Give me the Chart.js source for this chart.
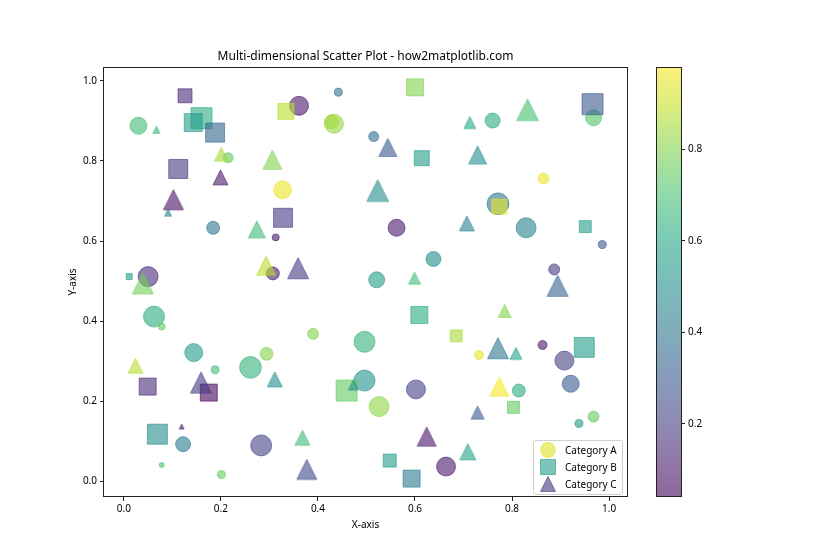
<!DOCTYPE html>
<html>
<head>
<meta charset="utf-8">
<script src="https://cdn.jsdelivr.net/npm/chart.js@4.4.1/dist/chart.umd.min.js"></script>
<style>
  body { margin: 0; background: #fff; }
  #wrap { position: relative; width: 840px; height: 560px; font-family: 'Noto Sans', sans-serif; }
  #main { position: absolute; left: 0; top: 0; }
  #cbar { position: absolute; left: 640px; top: 0; }
  #legend { position: absolute; left: 533px; top: 440px; width: 88px; height: 53px;
            border: 1px solid #d0d0d0; border-radius: 3px; background: rgba(255,255,255,0.8);
            font-size: 10px; color: #000; }
  #legend .mk { position: absolute; left: 5px; }
  #legend .tx { position: absolute; left: 31px; line-height: 17px; white-space: nowrap; }
</style>
</head>
<body>
<div id="wrap">
  <canvas id="main" width="840" height="560"></canvas>
  <canvas id="cbar" width="100" height="560"></canvas>
  <div id="legend"></div>
</div>
<script>
// ---- data ----
const categories = ['Category A', 'Category B', 'Category C'];

// Category A (circles)
const xA = [0.030, 0.215, 0.327, 0.442, 0.361, 0.433, 0.428, 0.515, 0.760, 0.968,
            0.865, 0.771, 0.184, 0.313, 0.307, 0.050, 0.062, 0.078, 0.144, 0.294,
            0.562, 0.638, 0.521, 0.390, 0.496, 0.829, 0.986, 0.887, 0.863, 0.732,
            0.908, 0.921, 0.814, 0.938, 0.968, 0.664, 0.188, 0.261, 0.122, 0.283,
            0.078, 0.201, 0.496, 0.526, 0.602];
const yA = [0.888, 0.808, 0.728, 0.972, 0.938, 0.893, 0.898, 0.861, 0.901, 0.908,
            0.756, 0.693, 0.633, 0.609, 0.519, 0.511, 0.411, 0.386, 0.321, 0.318,
            0.633, 0.555, 0.503, 0.368, 0.348, 0.633, 0.591, 0.529, 0.340, 0.315,
            0.301, 0.243, 0.226, 0.144, 0.161, 0.036, 0.278, 0.284, 0.092, 0.089,
            0.040, 0.016, 0.251, 0.186, 0.229];
const sizeA = [306, 106, 343, 68, 382, 382, 207, 106, 238, 271,
               128, 500, 179, 52, 179, 423, 467, 52, 343, 179,
               306, 238, 271, 128, 467, 423, 68, 128, 86, 86,
               382, 306, 179, 68, 128, 382, 68, 500, 238, 467,
               26, 68, 467, 423, 382];
const colorA = [0.68, 0.75, 0.95, 0.38, 0.10, 0.83, 0.85, 0.38, 0.62, 0.72,
                0.95, 0.40, 0.40, 0.10, 0.10, 0.15, 0.62, 0.75, 0.55, 0.80,
                0.10, 0.50, 0.55, 0.80, 0.65, 0.45, 0.30, 0.20, 0.10, 0.95,
                0.22, 0.30, 0.62, 0.55, 0.75, 0.10, 0.68, 0.65, 0.42, 0.22,
                0.70, 0.75, 0.52, 0.82, 0.22];

// Category B (squares)
const xB = [0.126, 0.160, 0.143, 0.188, 0.112, 0.334, 0.600, 0.614, 0.328, 0.966,
            0.774, 0.011, 0.609, 0.951, 0.685, 0.949, 0.803, 0.049, 0.175, 0.069,
            0.459, 0.548, 0.593];
const yB = [0.963, 0.907, 0.896, 0.871, 0.780, 0.924, 0.984, 0.807, 0.658, 0.942,
            0.686, 0.511, 0.415, 0.636, 0.363, 0.334, 0.184, 0.236, 0.221, 0.117,
            0.226, 0.051, 0.006];
const sizeB = [207, 467, 343, 382, 382, 271, 306, 238, 382, 467,
               238, 38, 306, 152, 152, 423, 152, 306, 306, 423,
               467, 179, 306];
const colorB = [0.15, 0.62, 0.55, 0.35, 0.20, 0.88, 0.80, 0.55, 0.20, 0.30,
                0.95, 0.55, 0.62, 0.55, 0.85, 0.55, 0.75, 0.15, 0.05, 0.50,
                0.75, 0.55, 0.42];

// Category C (triangles)
const xC = [0.067, 0.201, 0.306, 0.199, 0.102, 0.544, 0.523, 0.713, 0.832, 0.729,
            0.091, 0.274, 0.293, 0.039, 0.359, 0.599, 0.707, 0.894, 0.785, 0.771,
            0.808, 0.774, 0.729, 0.709, 0.024, 0.311, 0.159, 0.119, 0.473, 0.368,
            0.624, 0.377];
const yC = [0.878, 0.817, 0.803, 0.759, 0.703, 0.834, 0.726, 0.896, 0.928, 0.815,
            0.671, 0.629, 0.538, 0.494, 0.532, 0.507, 0.644, 0.488, 0.425, 0.332,
            0.319, 0.236, 0.171, 0.073, 0.288, 0.254, 0.246, 0.136, 0.240, 0.108,
            0.111, 0.029];
const sizeC = [52, 207, 382, 238, 423, 343, 500, 152, 500, 343,
               52, 306, 382, 467, 467, 152, 238, 467, 179, 467,
               152, 382, 179, 271, 238, 238, 467, 26, 106, 238,
               382, 423];
const colorC = [0.65, 0.85, 0.80, 0.10, 0.08, 0.30, 0.50, 0.60, 0.70, 0.50,
                0.45, 0.68, 0.88, 0.78, 0.20, 0.68, 0.45, 0.33, 0.80, 0.40,
                0.58, 0.97, 0.30, 0.58, 0.88, 0.50, 0.20, 0.10, 0.50, 0.68,
                0.10, 0.25];

const axisTicks = [0, 0.2, 0.4, 0.6, 0.8, 1.0];
const colorbarTicks = [0.2, 0.4, 0.6, 0.8];
const legendColors = [0.95, 0.55, 0.15];

// ---- helpers ----
const vmin = 0.04, vmax = 0.98;
const ALPHA = 0.6;
const PX_PER_PT = 70 / 72;
const FONT = "'Noto Sans', sans-serif";

const VIRIDIS = ['#440154', '#482475', '#414487', '#355f8d', '#2a788e', '#21918c',
                 '#22a884', '#44bf70', '#7ad151', '#bddf26', '#fde725'];
function hex(h) {
  return [parseInt(h.substr(1, 2), 16), parseInt(h.substr(3, 2), 16), parseInt(h.substr(5, 2), 16)];
}
function viridis(t, a) {
  t = Math.max(0, Math.min(1, t));
  const p = t * 10, i = Math.min(9, Math.floor(p)), f = p - i;
  const c0 = hex(VIRIDIS[i]), c1 = hex(VIRIDIS[i + 1]);
  const c = c0.map((v, k) => Math.round(v + (c1[k] - v) * f));
  return `rgba(${c[0]},${c[1]},${c[2]},${a})`;
}
function cmap(v) { return viridis((v - vmin) / (vmax - vmin), ALPHA); }
function diam(s) { return Math.sqrt(s) * PX_PER_PT; }

function triangleImage(d, color) {
  const size = Math.ceil(d) + 4;
  const c = document.createElement('canvas');
  c.width = size; c.height = size;
  const g = c.getContext('2d');
  const cx = size / 2, cy = size / 2, h = d / 2;
  g.beginPath();
  g.moveTo(cx, cy - h);
  g.lineTo(cx - h, cy + h);
  g.lineTo(cx + h, cy + h);
  g.closePath();
  g.fillStyle = color; g.fill();
  g.lineWidth = 1; g.strokeStyle = color; g.stroke();
  return c;
}

function pts(xs, ys) { return xs.map((x, i) => ({ x: x, y: ys[i] })); }
const idx = ctx => ctx.dataIndex || 0;

const triImgs = sizeC.map((s, i) => triangleImage(diam(s), cmap(colorC[i])));

const frame = {
  id: 'frame',
  afterDatasetsDraw(chart) {
    const { ctx, chartArea: a } = chart;
    ctx.save();
    ctx.strokeStyle = '#222';
    ctx.lineWidth = 1;
    ctx.strokeRect(Math.round(a.left) - 0.5, Math.round(a.top) + 0.5,
                   Math.round(a.right - a.left) + 1, Math.round(a.bottom - a.top) - 1);
    ctx.restore();
  }
};

const tickFont = { family: FONT, size: 10 };
const fix1 = v => Number(v).toFixed(1);

new Chart(document.getElementById('main'), {
  type: 'scatter',
  data: {
    datasets: [
      {
        label: categories[0], data: pts(xA, yA), order: 3,
        pointStyle: 'circle',
        pointRadius: ctx => diam(sizeA[idx(ctx)]) / 2,
        backgroundColor: ctx => cmap(colorA[idx(ctx)]),
        borderColor: ctx => cmap(colorA[idx(ctx)]),
        borderWidth: 1
      },
      {
        label: categories[1], data: pts(xB, yB), order: 2,
        pointStyle: 'rect',
        pointRadius: ctx => diam(sizeB[idx(ctx)]) / Math.SQRT2,
        backgroundColor: ctx => cmap(colorB[idx(ctx)]),
        borderColor: ctx => cmap(colorB[idx(ctx)]),
        borderWidth: 1
      },
      {
        label: categories[2], data: pts(xC, yC), order: 1,
        pointStyle: ctx => triImgs[idx(ctx)],
        pointRadius: ctx => diam(sizeC[idx(ctx)]) / 2,
        backgroundColor: ctx => cmap(colorC[idx(ctx)]),
        borderWidth: 0
      }
    ]
  },
  options: {
    responsive: false,
    animation: false,
    events: [],
    layout: { padding: { left: 0, right: 213, top: 0, bottom: 0 } },
    plugins: {
      legend: { display: false },
      tooltip: { enabled: false },
      title: {
        display: true,
        fullSize: false,
        text: 'Multi-dimensional Scatter Plot - how2matplotlib.com',
        color: '#000',
        font: { family: FONT, size: 12, weight: 'normal' },
        padding: { top: 49, bottom: 3.6 }
      }
    },
    scales: {
      x: {
        type: 'linear', min: -0.041, max: 1.037,
        afterBuildTicks: s => { s.ticks = axisTicks.map(v => ({ value: v })); },
        afterFit: s => { s.height = 63; },
        grid: { drawOnChartArea: false, drawTicks: true, tickLength: 4, tickColor: '#222' },
        border: { display: false },
        ticks: { font: tickFont, color: '#000', padding: 2, autoSkip: false, maxRotation: 0, callback: fix1 },
        title: { display: true, text: 'X-axis', color: '#000', font: tickFont, padding: { top: 0, bottom: 29 } }
      },
      y: {
        type: 'linear', min: -0.04, max: 1.035,
        afterBuildTicks: s => { s.ticks = axisTicks.map(v => ({ value: v })); },
        afterFit: s => { s.width = 104; },
        grid: { drawOnChartArea: false, drawTicks: true, tickLength: 4, tickColor: '#222' },
        border: { display: false },
        ticks: { font: tickFont, color: '#000', padding: 3, autoSkip: false, callback: fix1 },
        title: { display: true, text: 'Y-axis', color: '#000', font: tickFont, padding: { top: 67, bottom: 0 } }
      }
    }
  },
  plugins: [frame]
});

// ---- colorbar ----
new Chart(document.getElementById('cbar'), {
  type: 'bar',
  data: {
    labels: [''],
    datasets: [{
      data: [[vmin, vmax]],
      barPercentage: 1, categoryPercentage: 1, borderWidth: 0,
      backgroundColor: c => {
        const a = c.chart.chartArea;
        if (!a) return 'transparent';
        const g = c.chart.ctx.createLinearGradient(0, a.bottom, 0, a.top);
        for (let i = 0; i <= 40; i++) g.addColorStop(i / 40, viridis(i / 40, ALPHA));
        return g;
      }
    }]
  },
  options: {
    responsive: false,
    animation: false,
    events: [],
    layout: { padding: { left: 17, top: 67, bottom: 63, right: 0 } },
    plugins: { legend: { display: false }, tooltip: { enabled: false } },
    scales: {
      x: { display: false },
      y: {
        position: 'right', min: vmin, max: vmax,
        afterBuildTicks: s => { s.ticks = colorbarTicks.map(v => ({ value: v })); },
        afterFit: s => { s.width = 59; },
        grid: { drawOnChartArea: false, drawTicks: true, tickLength: 4, tickColor: '#222' },
        border: { display: false },
        ticks: { font: tickFont, color: '#000', padding: 3, autoSkip: false, callback: fix1 }
      }
    }
  },
  plugins: [frame]
});

// ---- legend ----
const legend = document.getElementById('legend');
const shapes = [
  c => `<circle cx="9" cy="9" r="7.5" fill="${c}" stroke="${c}" stroke-width="1"/>`,
  c => `<rect x="1.5" y="1.5" width="15" height="15" fill="${c}" stroke="${c}" stroke-width="1"/>`,
  c => `<polygon points="9,1.5 1.5,16.5 16.5,16.5" fill="${c}" stroke="${c}" stroke-width="1"/>`
];
categories.forEach((name, i) => {
  const top = 0.5 + i * 17;
  const col = viridis(legendColors[i], ALPHA);
  legend.insertAdjacentHTML('beforeend',
    `<svg class="mk" width="18" height="18" style="top:${top - 0.5}px">${shapes[i](col)}</svg>` +
    `<div class="tx" style="top:${top}px">${name}</div>`);
});
</script>
</body>
</html>
